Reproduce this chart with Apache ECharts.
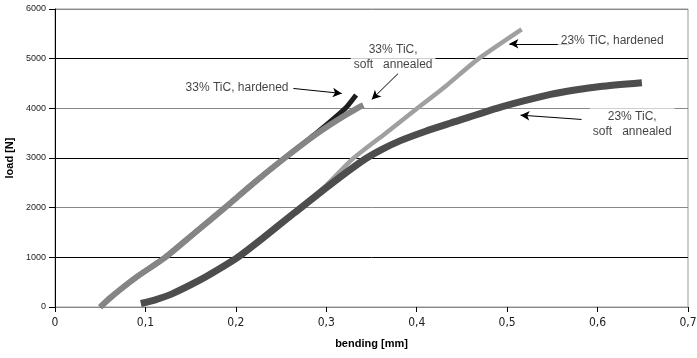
<!DOCTYPE html>
<html>
<head>
<meta charset="utf-8">
<script src="https://cdn.jsdelivr.net/npm/echarts@6/dist/echarts.min.js"></script>
<style>
html,body{margin:0;padding:0;background:#fff;}
#chart{width:697px;height:358px;}
</style>
</head>
<body>
<div id="chart"></div>
<script>
// x tick labels
var xTicks = ['0', '0,1', '0,2', '0,3', '0,4', '0,5', '0,6', '0,7'];
var yTicks = ['0', '1000', '2000', '3000', '4000', '5000', '6000'];

// 33% TiC, hardened
var h33X = [0.050, 0.062, 0.090, 0.122, 0.155, 0.188, 0.220, 0.254, 0.289, 0.321, 0.333];
var h33Y = [0, 200, 600, 1000, 1500, 2000, 2500, 3000, 3500, 4000, 4270];
// 33% TiC, soft annealed
var s33X = [0.050, 0.062, 0.090, 0.122, 0.155, 0.188, 0.220, 0.254, 0.289, 0.312, 0.334, 0.341];
var s33Y = [0, 200, 600, 1000, 1500, 2000, 2500, 3000, 3480, 3760, 4000, 4060];
// 23% TiC, hardened
var h23X = [0.095, 0.110, 0.130, 0.160, 0.180, 0.202, 0.230, 0.265, 0.300, 0.329, 0.365, 0.400, 0.433, 0.467, 0.516];
var h23Y = [70, 140, 270, 540, 750, 1000, 1390, 1910, 2450, 2980, 3490, 3990, 4460, 4980, 5590];
// 23% TiC, soft annealed
var s23X = [0.095, 0.110, 0.130, 0.160, 0.180, 0.202, 0.230, 0.265, 0.300, 0.323, 0.343, 0.360, 0.382, 0.410, 0.437, 0.492, 0.548, 0.575, 0.603, 0.649];
var s23Y = [70, 140, 270, 540, 750, 1000, 1390, 1900, 2400, 2720, 2980, 3160, 3350, 3540, 3700, 4020, 4280, 4370, 4440, 4515];

// annotations: text and arrow (data coordinates)
var noteText = ['33% TiC, hardened', '33% TiC,\nsoft   annealed', '23% TiC, hardened', '23% TiC,\nsoft   annealed'];
var noteX = [0.2013, 0.3739, 0.6162, 0.6383];
var noteY = [4406, 5030, 5352, 3682];
var arrowFromX = [0.2636, 0.3794, 0.5689, 0.5823];
var arrowFromY = [4400, 4700, 5300, 3776];
var arrowToX = [0.3171, 0.3503, 0.5025, 0.5148];
var arrowToY = [4300, 4180, 5300, 3863];

function zip(xs, ys) { return xs.map(function (x, i) { return [x, ys[i]]; }); }

var FONT = '"Liberation Sans", Arial, sans-serif';
var NARROW = '"Liberation Sans Narrow", "DejaVu Sans Condensed", "Liberation Sans", sans-serif';

var chart = echarts.init(document.getElementById('chart'), null, {renderer: 'canvas'});
var lineBase = {type: 'line', showSymbol: false, symbol: 'none', smooth: 0.2};
var option = {
  animation: false,
  backgroundColor: '#fff',
  grid: {left: 55, right: 9, top: 9, bottom: 51, show: true, borderColor: '#999', borderWidth: 1,
    backgroundColor: 'transparent', containLabel: false, outerBoundsMode: 'none'},
  xAxis: {
    type: 'value', min: 0, max: 0.7, interval: 0.1,
    name: 'bending [mm]', nameLocation: 'middle', nameGap: 31,
    nameTextStyle: {fontFamily: FONT, fontWeight: 'bold', fontSize: 11, color: '#000'},
    axisLine: {show: true, lineStyle: {color: '#888', width: 1}},
    axisTick: {show: true, length: 5, lineStyle: {color: '#000'}},
    axisLabel: {fontFamily: NARROW, fontSize: 12, color: '#222', margin: 10,
      formatter: function (v) { return xTicks[Math.round(v * 10)]; }},
    splitLine: {show: false}
  },
  yAxis: {
    type: 'value', min: 0, max: 6000, interval: 1000,
    name: 'load [N]', nameLocation: 'middle', nameGap: 38, nameRotate: 90,
    nameTextStyle: {fontFamily: FONT, fontWeight: 'bold', fontSize: 11, color: '#000'},
    axisLine: {show: true, onZero: false, lineStyle: {color: '#000', width: 1}},
    axisTick: {show: true, length: 6, lineStyle: {color: '#000'}},
    axisLabel: {fontFamily: FONT, fontSize: 9, color: '#222', margin: 9,
      formatter: function (v) { return yTicks[Math.round(v / 1000)]; }},
    splitLine: {show: true, lineStyle: {color: ['#888', '#000'], width: 1}}
  },
  series: [
    Object.assign({name: '23% TiC, hardened', data: zip(h23X, h23Y),
      lineStyle: {color: '#a0a0a0', width: 4.5}, z: 2}, lineBase),
    Object.assign({name: '23% TiC, soft annealed', data: zip(s23X, s23Y),
      lineStyle: {color: '#4d4d4d', width: 7}, z: 3}, lineBase),
    Object.assign({name: '33% TiC, hardened', data: zip(h33X, h33Y),
      lineStyle: {color: '#1e1e1e', width: 5}, z: 4}, lineBase),
    Object.assign({name: '33% TiC, soft annealed', data: zip(s33X, s33Y),
      lineStyle: {color: '#858585', width: 6}, z: 5}, lineBase),
    {type: 'scatter', name: 'notes', symbolSize: 0, z: 10, silent: true,
      data: noteText.map(function (t, i) { return {value: [noteX[i], noteY[i]], label: {formatter: t}}; }),
      label: {show: true, position: 'inside', color: '#111', fontFamily: FONT, fontSize: 12, lineHeight: 15,
        align: 'center', verticalAlign: 'middle', backgroundColor: '#fff', padding: [1, 3]},
      markLine: {
        silent: true, symbol: ['none', 'arrow'], symbolSize: [7, 9], animation: false,
        lineStyle: {color: '#000', width: 1, type: 'solid'}, label: {show: false},
        data: arrowFromX.map(function (x, i) {
          return [{coord: [x, arrowFromY[i]]}, {coord: [arrowToX[i], arrowToY[i]]}];
        })
      }
    }
  ]
};
chart.setOption(option);
</script>
</body>
</html>
